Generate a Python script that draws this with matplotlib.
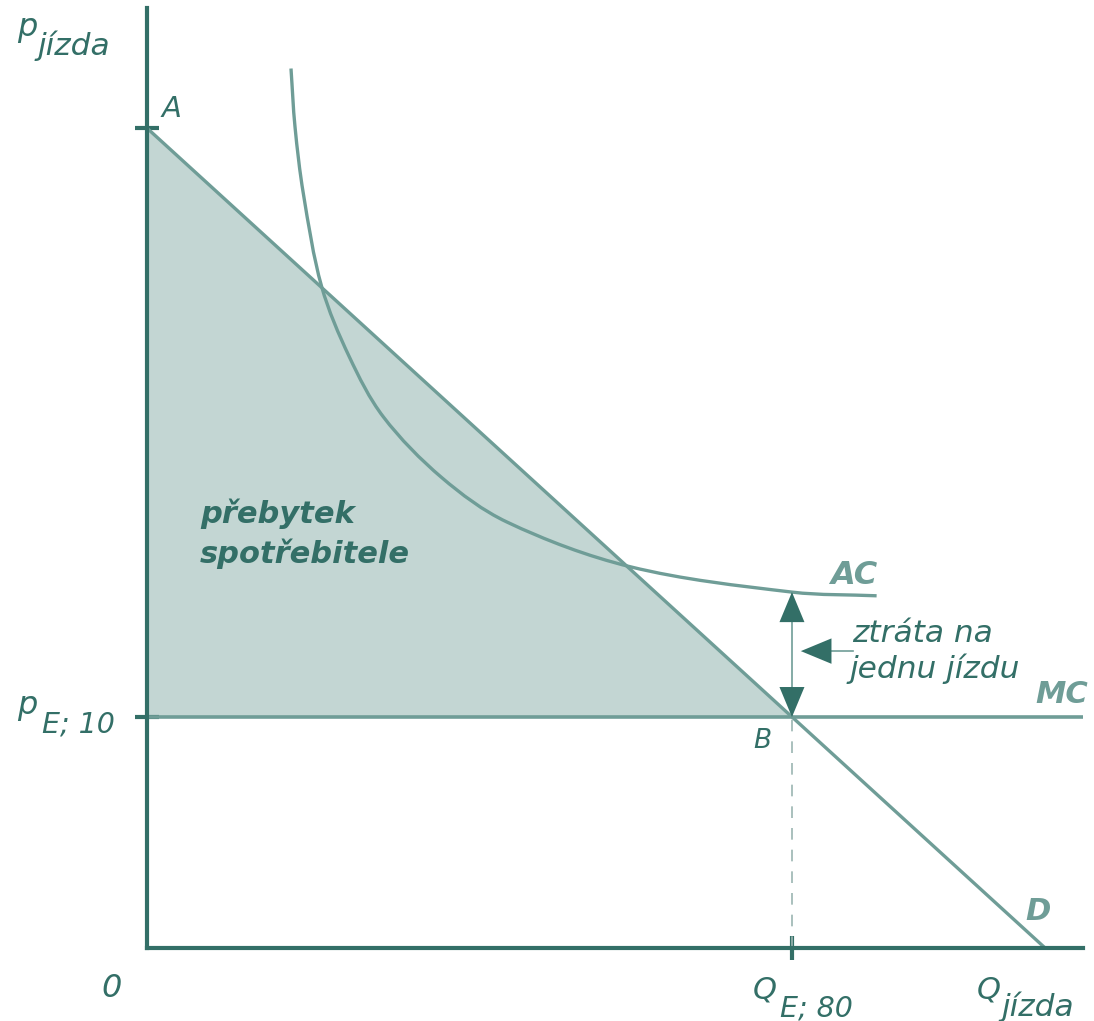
import matplotlib
matplotlib.use("Agg")
import matplotlib.pyplot as plt
from matplotlib.path import Path
from matplotlib.patches import PathPatch
import numpy as np

# data (Q = jizdy, p = cena)
q_e = 80.0
p_e = 10.0
p_a = 35.5          # demand intercept A
q_d = 111.4         # demand hits the Q axis
demand_q = [0.0, q_d]
demand_p = [p_a, 0.0]
mc_q = [0.0, 116.1]
mc_p = [p_e, p_e]
ac_q = [17.86, 18.36, 19.39, 21.67, 25.09, 29.31, 36.55, 44.61, 59.91, 80.0, 90.5]
ac_p = [38.08, 35.55, 32.67, 28.63, 25.60, 23.00, 20.37, 18.45, 16.51, 15.41, 15.25]

dark = "#336f67"
light = "#6f9d97"
fill = "#c3d6d3"

W, H = 1094, 1021
fig = plt.figure(figsize=(W / 100, H / 100), dpi=100)
ax = fig.add_axes([147 / W, 1 - 948 / H, (1083 - 147) / W, (948 - 8) / H])
ax.set_xlim(0, 116.1)
ax.set_ylim(0, 40.7)

# consumer surplus triangle A-B-p_E
ax.fill([0, 0, q_e], [p_a, p_e, p_e], color=fill, lw=0, zorder=1)

ax.plot(mc_q, mc_p, color=light, lw=2.6, zorder=2)
ax.plot(demand_q, demand_p, color=light, lw=2.4, zorder=2)

# AC as a smooth bezier path through the read points
# (tangents from neighbours, chord-length spacing measured on screen)
pts = np.column_stack([ac_q, ac_p])
scr = ax.transData.transform(pts)
t = np.concatenate([[0], np.cumsum(np.hypot(*np.diff(scr, axis=0).T))])
n = len(pts)
tang = np.zeros_like(pts)
for i in range(n):
    a, b = max(i - 1, 0), min(i + 1, n - 1)
    tang[i] = (pts[b] - pts[a]) / (t[b] - t[a])
verts = [pts[0]]
codes = [Path.MOVETO]
for i in range(n - 1):
    h = t[i + 1] - t[i]
    verts += [pts[i] + tang[i] * h / 3, pts[i + 1] - tang[i + 1] * h / 3, pts[i + 1]]
    codes += [Path.CURVE4] * 3
ax.add_patch(PathPatch(Path(verts, codes), fc="none", ec=light, lw=2.4,
                       capstyle="butt", zorder=2))

ax.plot([q_e, q_e], [0, p_e], color="#9bb5b1", lw=1.2, ls=(0, (7, 6)), zorder=2)

# loss per ride: double arrow between MC and AC at Q_E
ac_at_qe = ac_p[ac_q.index(q_e)]
ax.plot([q_e, q_e], [p_e, ac_at_qe], color=light, lw=1.2, zorder=3)
hw, hl = 1.55, 1.3
ax.fill([q_e, q_e - hw, q_e + hw], [ac_at_qe, ac_at_qe - hl, ac_at_qe - hl], color=dark, lw=0, zorder=4)
ax.fill([q_e, q_e - hw, q_e + hw], [p_e, p_e + hl, p_e + hl], color=dark, lw=0, zorder=4)
mid = (p_e + ac_at_qe) / 2 + 0.15
ax.plot([q_e + 4.8, q_e + 7.6], [mid, mid], color=light, lw=1.2, zorder=3)
ax.fill([q_e + 1.1, q_e + 4.9, q_e + 4.9], [mid, mid + 0.55, mid - 0.55], color=dark, lw=0, zorder=4)

for s in ["top", "right"]:
    ax.spines[s].set_visible(False)
for s in ["left", "bottom"]:
    ax.spines[s].set_color(dark)
    ax.spines[s].set_linewidth(3.0)
ax.set_yticks([p_e, p_a])
ax.set_xticks([q_e])
ax.tick_params(direction="inout", length=17, width=3.0, color=dark,
               labelleft=False, labelbottom=False)


def label(x, y, s, size=20, weight="normal", color=dark):
    fig.text(x / W, 1 - y / H, s, fontsize=size, fontstyle="italic",
             fontweight=weight, color=color, ha="left", va="baseline")


label(17, 36, "p", 23)
label(38, 55, "jízda", 22.5)
label(17, 714, "p", 23)
label(42, 732, "E; 10", 20.5)
label(101, 997, "0", 23)
label(753, 998, "Q", 22)
label(780, 1016, "E; 80", 20.5)
label(977, 998, "Q", 22)
label(1002, 1016, "jízda", 22.5)
label(162, 117, "A", 21)
label(753, 748, "B", 19)
label(830, 584, "AC", 23, "bold", light)
label(1035, 703, "MC", 22, "bold", light)
label(1025, 920, "D", 22, "bold", light)
label(852, 642, "ztráta na", 22.5)
label(850, 678, "jednu jízdu", 22.5)
label(200, 523, "přebytek", 22, "bold")
label(200, 563, "spotřebitele", 22, "bold")

fig.savefig("out.png", dpi=100)
